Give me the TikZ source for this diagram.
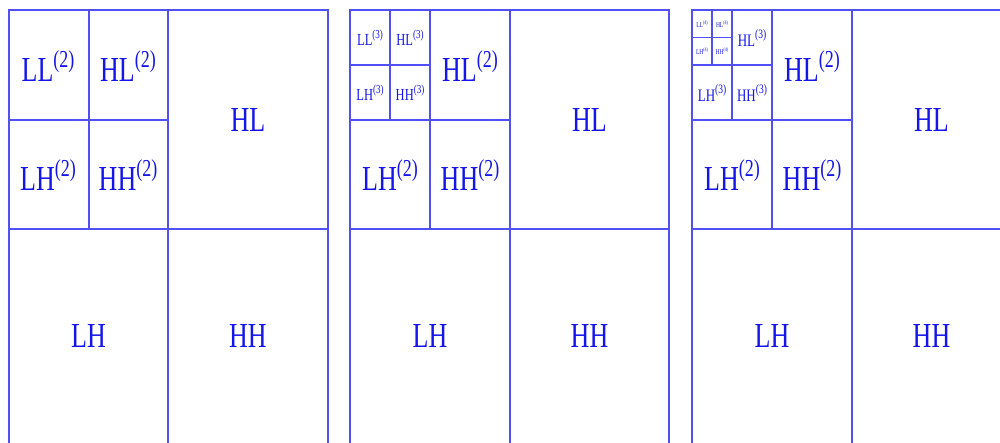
\documentclass[tikz,border=0pt]{standalone}
\usepackage{fontspec}
\setmainfont{Liberation Serif}
\usepackage{graphicx}
\definecolor{gridblue}{RGB}{80,80,245}
\definecolor{txtblue}{RGB}{20,20,235}
\newcommand{\wl}[4]{\scalebox{1}[1.35]{\fontsize{#2}{#2}\selectfont #1\raisebox{0.42em}{\fontsize{#3}{#3}\selectfont(#4)}}}
\newcommand{\wm}[2]{\scalebox{1}[1.35]{\fontsize{#2}{#2}\selectfont #1}}
\begin{document}
\begin{tikzpicture}[x=1pt,y=-1pt,
  gridline/.style={draw=gridblue,line width=1.4pt},
  lab/.style={text=txtblue,inner sep=0pt}]
\useasboundingbox (0,0) rectangle (1000,443);
\clip (0,0) rectangle (1000,443);
% ---------- panel 1
\draw[gridline] (9,10) rectangle (328,448);
\draw[gridline] (168,10) -- (168,448);
\draw[gridline] (9,229) -- (328,229);
\draw[gridline] (89,10) -- (89,229);
\draw[gridline] (9,120) -- (168,120);
\node[lab] (p1ll2) at (48,66) {\wl{LL}{26}{18}{2}};
\node[lab] (p1hl2) at (128,66) {\wl{HL}{26}{18}{2}};
\node[lab] (p1lh2) at (48,175) {\wl{LH}{26}{18}{2}};
\node[lab] (p1hh2) at (128,175) {\wl{HH}{26}{18}{2}};
\node[lab] (p1hl) at (248,120) {\wm{HL}{26}};
\node[lab] (p1lh) at (88.5,336) {\wm{LH}{26}};
\node[lab] (p1hh) at (248,336) {\wm{HH}{26}};
% ---------- panel 2
\draw[gridline] (350,10) rectangle (669,448);
\draw[gridline] (510,10) -- (510,448);
\draw[gridline] (350,229) -- (669,229);
\draw[gridline] (430,10) -- (430,229);
\draw[gridline] (350,120) -- (510,120);
\draw[gridline] (390,10) -- (390,120);
\draw[gridline] (350,65) -- (430,65);
\node[lab] (p2ll3) at (370,38) {\wl{LL}{12.5}{9}{3}};
\node[lab] (p2hl3) at (410,38) {\wl{HL}{12.5}{9}{3}};
\node[lab] (p2lh3) at (370,93) {\wl{LH}{12.5}{9}{3}};
\node[lab] (p2hh3) at (410,93) {\wl{HH}{12.5}{9}{3}};
\node[lab] (p2hl2) at (470,66) {\wl{HL}{26}{18}{2}};
\node[lab] (p2lh2) at (390,175) {\wl{LH}{26}{18}{2}};
\node[lab] (p2hh2) at (470,175) {\wl{HH}{26}{18}{2}};
\node[lab] (p2hl) at (589.5,120) {\wm{HL}{26}};
\node[lab] (p2lh) at (430,336) {\wm{LH}{26}};
\node[lab] (p2hh) at (589.5,336) {\wm{HH}{26}};
% ---------- panel 3
\draw[gridline] (692,10) rectangle (1011,448);
\draw[gridline] (852,10) -- (852,448);
\draw[gridline] (692,229) -- (1011,229);
\draw[gridline] (772,10) -- (772,229);
\draw[gridline] (692,120) -- (852,120);
\draw[gridline] (732,10) -- (732,120);
\draw[gridline] (692,65) -- (772,65);
\draw[gridline] (712,10) -- (712,65);
\draw[gridline] (692,37.5) -- (732,37.5);
\node[lab] (p3ll4) at (702,24) {\wl{LL}{5.5}{4}{4}};
\node[lab] (p3hl4) at (722,24) {\wl{HL}{5.5}{4}{4}};
\node[lab] (p3lh4) at (702,51) {\wl{LH}{5.5}{4}{4}};
\node[lab] (p3hh4) at (722,51) {\wl{HH}{5.5}{4}{4}};
\node[lab] (p3hl3) at (752,38) {\wl{HL}{13}{9.5}{3}};
\node[lab] (p3lh3) at (712,93) {\wl{LH}{13}{9.5}{3}};
\node[lab] (p3hh3) at (752,93) {\wl{HH}{13}{9.5}{3}};
\node[lab] (p3hl2) at (812,66) {\wl{HL}{26}{18}{2}};
\node[lab] (p3lh2) at (732,175) {\wl{LH}{26}{18}{2}};
\node[lab] (p3hh2) at (812,175) {\wl{HH}{26}{18}{2}};
\node[lab] (p3hl) at (931.5,120) {\wm{HL}{26}};
\node[lab] (p3lh) at (772,336) {\wm{LH}{26}};
\node[lab] (p3hh) at (931.5,336) {\wm{HH}{26}};
\end{tikzpicture}
\end{document}
